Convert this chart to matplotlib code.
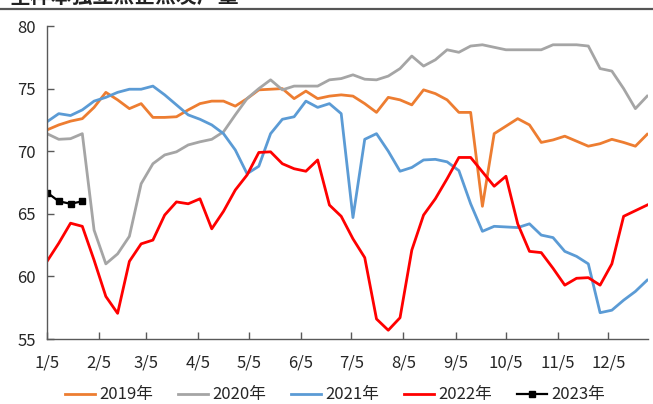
import matplotlib
matplotlib.use("Agg")
import matplotlib.pyplot as plt
from matplotlib.lines import Line2D
import pandas as pd

plt.rcParams['font.family'] = ['Noto Sans CJK SC', 'DejaVu Sans']

title = "全样本独立焦企焦炭产量"
series_names = ["2019年", "2020年", "2021年", "2022年", "2023年"]
tick_labels = ["1/5", "2/5", "3/5", "4/5", "5/5", "6/5", "7/5", "8/5", "9/5", "10/5", "11/5", "12/5"]

y2019 = [71.7, 72.1, 72.4, 72.6, 73.5, 74.7, 74.1, 73.4, 73.8, 72.7, 72.7, 72.75,
         73.3, 73.8, 74.0, 74.0, 73.6, 74.2, 74.9, 74.95, 75.0, 74.2, 74.8, 74.2,
         74.4, 74.5, 74.4, 73.8, 73.1, 74.3, 74.1, 73.7, 74.9, 74.6, 74.1, 73.1,
         73.1, 65.6, 71.4, 72.0, 72.6, 72.1, 70.7, 70.9, 71.2, 70.8, 70.4, 70.6,
         70.95, 70.7, 70.4, 71.35]
y2020 = [71.4, 70.95, 71.0, 71.4, 63.7, 61.0, 61.8, 63.2, 67.4, 69.0, 69.7, 69.95,
         70.5, 70.75, 70.95, 71.55, 72.9, 74.2, 75.0, 75.7, 74.9, 75.2, 75.2, 75.2,
         75.7, 75.8, 76.1, 75.75, 75.7, 76.0, 76.6, 77.6, 76.8, 77.3, 78.1, 77.9,
         78.4, 78.5, 78.3, 78.1, 78.1, 78.1, 78.1, 78.5, 78.5, 78.5, 78.4, 76.6,
         76.4, 75.0, 73.4, 74.4]
y2021 = [72.35, 73.0, 72.85, 73.3, 74.0, 74.3, 74.7, 74.95, 74.95, 75.2, 74.5, 73.7,
         72.9, 72.55, 72.1, 71.4, 70.1, 68.2, 68.8, 71.4, 72.55, 72.75, 74.0, 73.5,
         73.8, 73.0, 64.7, 70.95, 71.4, 70.0, 68.4, 68.7, 69.3, 69.35, 69.15, 68.45,
         65.8, 63.6, 64.0, 63.95, 63.9, 64.2, 63.3, 63.1, 62.0, 61.6, 61.0, 57.1,
         57.3, 58.1, 58.8, 59.7]
y2022 = [61.2, 62.65, 64.25, 64.0, 61.3, 58.4, 57.05, 61.2, 62.6, 62.9, 64.9, 65.95,
         65.8, 66.2, 63.8, 65.2, 66.9, 68.1, 69.9, 69.95, 69.0, 68.6, 68.4, 69.3,
         65.7, 64.8, 63.0, 61.5, 56.6, 55.7, 56.7, 62.1, 64.9, 66.2, 67.8, 69.5,
         69.5, 68.35, 67.2, 68.0, 64.2, 62.0, 61.9, 60.65, 59.3, 59.85, 59.9, 59.3,
         61.0, 64.8, 65.25, 65.7]
y2023 = [66.7, 66.0, 65.8, 66.0]

colors = ["#ED7D31", "#A5A5A5", "#5B9BD5", "#FF0000", "#000000"]

dates = pd.date_range("2021-01-05", periods=52, freq="7D")
tick_dates = pd.date_range("2021-01-01", periods=12, freq="MS") + pd.Timedelta(days=4)

fig = plt.figure(figsize=(6.53, 4.04), dpi=100)
ax = fig.add_axes([47/653, 1-339/404, (648-47)/653, (339-26)/404])

all_series = [y2019, y2020, y2021, y2022]
for name, vals, c in zip(series_names[:4], all_series, colors[:4]):
    ax.plot(dates[:len(vals)], vals, color=c, lw=2.0, label=name)
ax.plot(dates[:len(y2023)], y2023, color=colors[4], lw=1.6, marker="s",
        markersize=5, label=series_names[4])

ax.set_xlim(dates[0], dates[-1] + pd.Timedelta(days=0.5))
ax.set_ylim(55, 80)
ax.set_yticks([55, 60, 65, 70, 75, 80])
ax.set_xticks(tick_dates)
ax.set_xticklabels(tick_labels)

for s in ["top", "right"]:
    ax.spines[s].set_visible(False)
for s in ["left", "bottom"]:
    ax.spines[s].set_color("#595959")
    ax.spines[s].set_linewidth(1.0)
ax.tick_params(axis="both", direction="in", length=5, width=1, color="#595959",
               labelsize=12, labelcolor="#262626")
ax.tick_params(axis="x", pad=11)
ax.tick_params(axis="y", pad=8)

fig.legend(loc="center", bbox_to_anchor=(335/653, 1-395/404), ncol=5, frameon=False,
           fontsize=12, handlelength=1.8, handletextpad=0.3, columnspacing=1.45,
           labelcolor="#262626")

fig.add_artist(Line2D([0, 1], [1-8.5/404, 1-8.5/404], color="#555555", lw=1.6,
                      transform=fig.transFigure))
fig.text(10/653, 1-4/404, title, fontsize=15, fontweight="bold", va="baseline",
         ha="left", color="#222222")

fig.savefig("out.png", dpi=100)
